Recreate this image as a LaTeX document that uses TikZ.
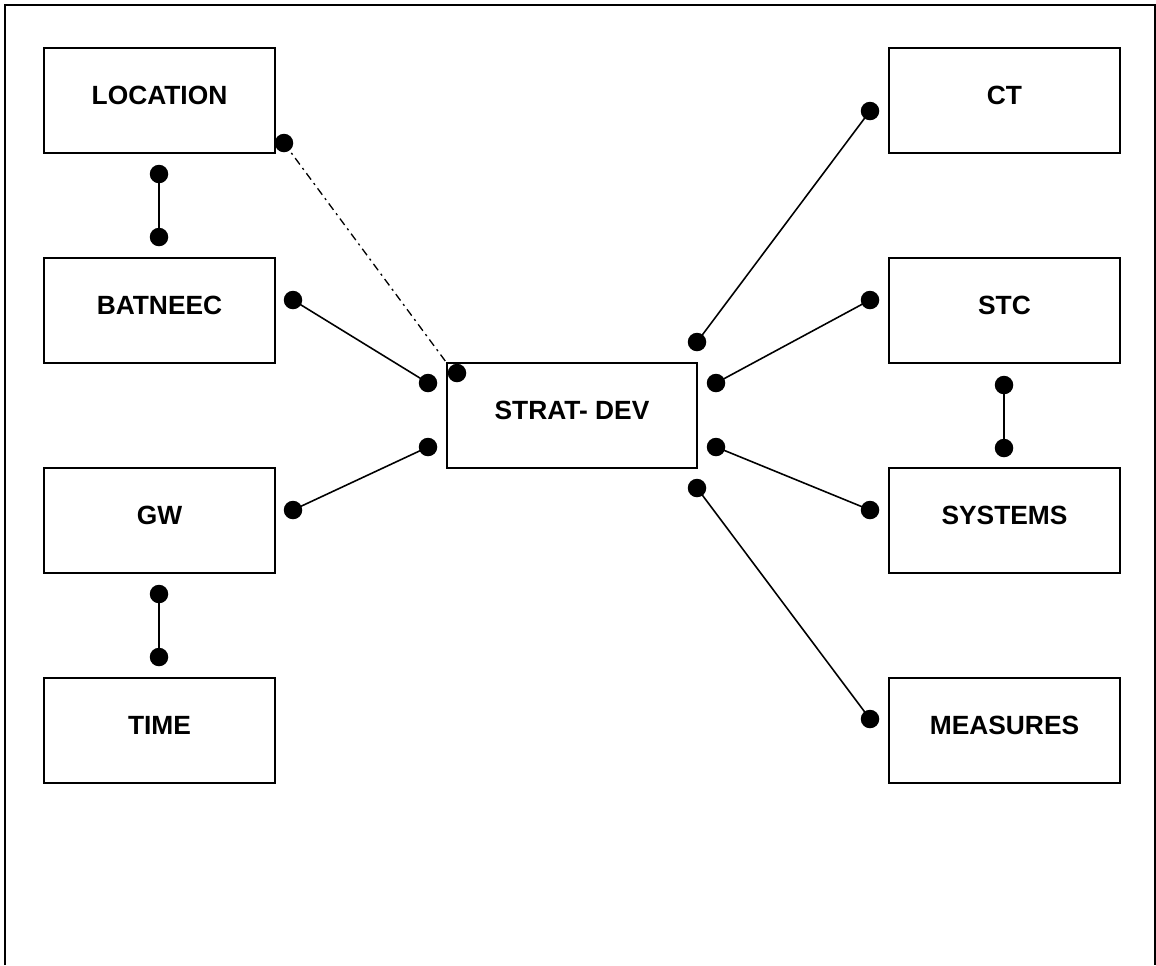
\documentclass[tikz,border=0pt]{standalone}
\usepackage{fontspec}
\setmainfont{Liberation Sans}
\usetikzlibrary{calc}
\tikzset{
  box/.style={draw,line width=1.1pt,minimum width=4.62cm,minimum height=2.1cm,inner sep=0pt,text height=0.38cm,text depth=0.22cm,font=\fontsize{15}{18}\selectfont\bfseries},
  dot/.style={circle,fill=black,inner sep=0pt,minimum size=0.37cm},
  link/.style={line width=0.9pt},
  frame/.style={line width=1.1pt}
}

\begin{document}
\begin{tikzpicture}[x=0.02cm,y=-0.02cm]
\useasboundingbox (0,0) rectangle (1156,965);
\draw[frame] (5,965) -- (5,5) -- (1155,5) -- (1155,965);
\node[box] (location) at (159.5,100.5) {LOCATION};
\node[box] (batneec) at (159.5,310.5) {BATNEEC};
\node[box] (gw) at (159.5,520.5) {GW};
\node[box] (time) at (159.5,730.5) {TIME};
\node[box,minimum width=5cm] (stratdev) at (572,415.5) {STRAT- DEV};
\node[box] (ct) at (1004.5,100.5) {CT};
\node[box] (stc) at (1004.5,310.5) {STC};
\node[box] (systems) at (1004.5,520.5) {SYSTEMS};
\node[box] (measures) at (1004.5,730.5) {MEASURES};
\node[dot] (loc-d) at (284,143) {};
\node[dot] (loc-bot) at (159,174) {};
\node[dot] (bat-top) at (159,237) {};
\node[dot] (bat-d) at (293,300) {};
\node[dot] (gw-d) at (293,510) {};
\node[dot] (gw-bot) at (159,594) {};
\node[dot] (time-top) at (159,657) {};
\node[dot] (sd-bat) at (428,383) {};
\node[dot] (sd-gw) at (428,447) {};
\node[dot] (sd-in) at (457,373) {};
\node[dot] (sd-ct) at (697,342) {};
\node[dot] (sd-stc) at (716,383) {};
\node[dot] (sd-sys) at (716,447) {};
\node[dot] (sd-mea) at (697,488) {};
\node[dot] (ct-d) at (870,111) {};
\node[dot] (stc-d) at (870,300) {};
\node[dot] (stc-bot) at (1004,385) {};
\node[dot] (sys-top) at (1004,448) {};
\node[dot] (sys-d) at (870,510) {};
\node[dot] (mea-d) at (870,719) {};
\draw[link,line width=0.75pt,dash pattern=on 4.5pt off 2.5pt on 1.2pt off 2.5pt] (loc-d.center) -- (stratdev.north west);
\draw[link] (loc-bot.center) -- (bat-top.center);
\draw[link] (bat-d.center) -- (sd-bat.center);
\draw[link] (gw-d.center) -- (sd-gw.center);
\draw[link] (gw-bot.center) -- (time-top.center);
\draw[link] (sd-ct.center) -- (ct-d.center);
\draw[link] (sd-stc.center) -- (stc-d.center);
\draw[link] (stc-bot.center) -- (sys-top.center);
\draw[link] (sd-sys.center) -- (sys-d.center);
\draw[link] (sd-mea.center) -- (mea-d.center);
\end{tikzpicture}
\end{document}
